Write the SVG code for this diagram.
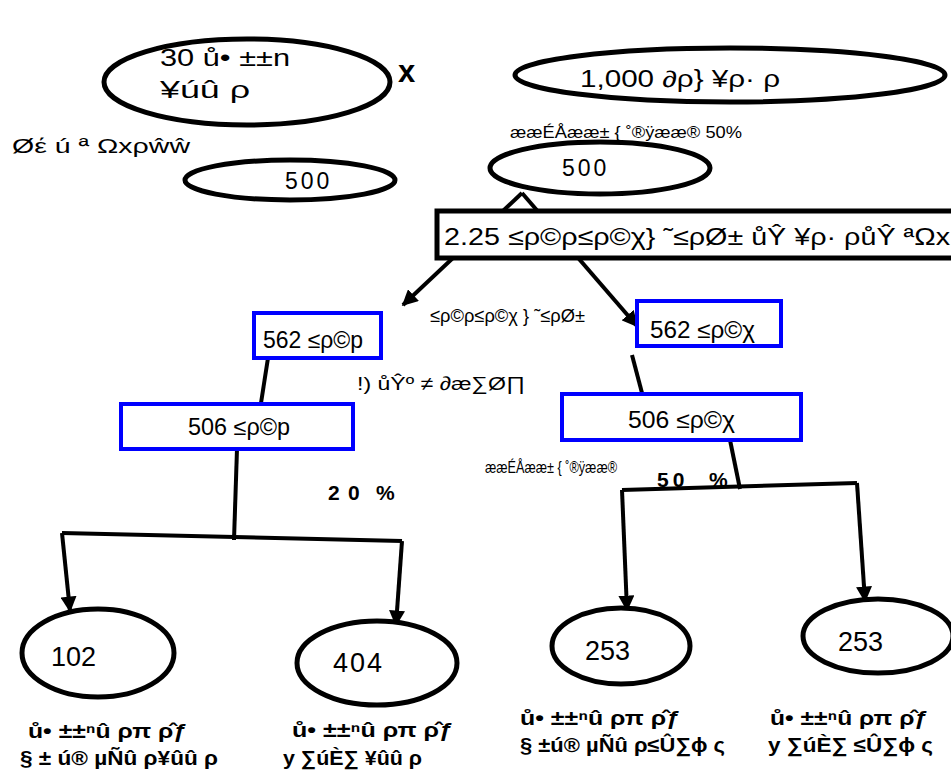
<svg xmlns="http://www.w3.org/2000/svg" width="951" height="775" viewBox="0 0 951 775">
<defs>
<marker id="ah" viewBox="0 0 10 10" refX="9" refY="5" markerWidth="4" markerHeight="4" orient="auto" markerUnits="strokeWidth">
<path d="M0,0 L10,5 L0,10 z" fill="#000"/>
</marker>
<style>
.el{fill:#fff;stroke:#000;stroke-width:5}
.bk{fill:#fff;stroke:#000;stroke-width:5}
.bl{fill:#fff;stroke:#0000ff;stroke-width:4}
.t{font-family:"Liberation Sans",Arial,sans-serif;fill:#000}
.n{font-size:23px}
.s{font-size:17px}
.b{font-size:20px;font-weight:bold}
.c{stroke:#000;stroke-width:4;fill:none}
.a{stroke:#000;stroke-width:4;fill:none;marker-end:url(#ah)}
</style>
</defs>
<rect width="951" height="775" fill="#fff"/>
<g id="connectors">
<line class="a" x1="522" y1="193" x2="403" y2="305"/>
<line class="a" x1="522" y1="193" x2="637" y2="326"/>
<line class="c" x1="268" y1="358" x2="261" y2="403"/>
<line class="c" x1="237" y1="449" x2="234" y2="540"/>
<line class="c" x1="62" y1="533" x2="402" y2="541"/>
<line class="a" x1="62" y1="533" x2="70" y2="611"/>
<line class="a" x1="402" y1="541" x2="396" y2="625"/>
<line class="c" x1="632" y1="355" x2="642" y2="393"/>
<line class="c" x1="730" y1="440" x2="740" y2="489"/>
<line class="c" x1="622" y1="490" x2="857" y2="483"/>
<line class="a" x1="622" y1="490" x2="627" y2="610"/>
<line class="a" x1="857" y1="483" x2="865" y2="601"/>
</g>
<g id="n-months">
<ellipse class="el" cx="247" cy="82" rx="143" ry="43"/>
<text class="t n" x="160" y="66" textLength="130" lengthAdjust="spacingAndGlyphs">30  ů•  ±±n</text>
<text class="t n" x="160" y="98" textLength="90" lengthAdjust="spacingAndGlyphs">¥úû  ρ</text>
</g>
<g id="n-times"><text class="t" x="398" y="82" font-size="31" font-weight="bold">x</text></g>
<g id="n-1000">
<ellipse class="el" cx="730" cy="75" rx="215" ry="27"/>
<text class="t n" x="580" y="87" textLength="200" lengthAdjust="spacingAndGlyphs">1,000   ∂ρ}   ¥ρ· ρ</text>
</g>
<g id="l-50a"><text class="t s" x="510" y="138" textLength="232" lengthAdjust="spacingAndGlyphs">ææÉÅææ± { ˚®ÿææ® 50%</text></g>
<g id="l-left"><text class="t" x="12" y="153" font-size="20" textLength="178" lengthAdjust="spacingAndGlyphs">Øέ ú ª Ωxρŵŵ</text></g>
<g id="n-500a">
<ellipse class="el" cx="290" cy="180" rx="105" ry="20"/>
<text class="t n" x="285" y="189" letter-spacing="3">500</text>
</g>
<g id="n-500b">
<ellipse class="el" cx="600" cy="168" rx="110" ry="26"/>
<text class="t n" x="562" y="176" letter-spacing="3">500</text>
</g>
<g id="n-rate">
<rect class="bk" x="437" y="211" width="520" height="47"/>
<text class="t" font-size="24" x="444" y="245" textLength="506" lengthAdjust="spacingAndGlyphs">2.25 ≤ρ©ρ≤ρ©χ} ˜≤ρØ±   ůŶ ¥ρ· ρůŶ ªΩx</text>
</g>
<g id="l-mid"><text class="t" font-size="19" x="430" y="322" textLength="155" lengthAdjust="spacingAndGlyphs">≤ρ©ρ≤ρ©χ } ˜≤ρØ±</text></g>
<g id="n-562a">
<rect class="bl" x="254" y="313" width="127" height="45"/>
<text class="t n" x="263" y="348" textLength="100" lengthAdjust="spacingAndGlyphs">562  ≤ρ©p</text>
</g>
<g id="n-562b">
<rect class="bl" x="637" y="301" width="144" height="45"/>
<text class="t n" x="650" y="338" textLength="105" lengthAdjust="spacingAndGlyphs">562  ≤ρ©χ</text>
</g>
<g id="l-cost"><text class="t" font-size="19" x="357" y="390" textLength="168" lengthAdjust="spacingAndGlyphs">!)  ůŶº ≠   ∂æ∑Ø∏</text></g>
<g id="n-506a">
<rect class="bl" x="121" y="404" width="232" height="45"/>
<text class="t n" x="188" y="435" textLength="102" lengthAdjust="spacingAndGlyphs">506 ≤ρ©p</text>
</g>
<g id="n-506b">
<rect class="bl" x="562" y="394" width="239" height="46"/>
<text class="t n" x="628" y="428" textLength="107" lengthAdjust="spacingAndGlyphs">506 ≤ρ©χ</text>
</g>
<g id="l-20"><text class="t" y="500" font-size="21" font-weight="bold"><tspan x="328">2</tspan><tspan x="348">0</tspan><tspan x="376">%</tspan></text></g>
<g id="l-50b">
<text class="t" font-size="17" x="485" y="473" textLength="132" lengthAdjust="spacingAndGlyphs">ææÉÅææ± { ˚®ÿææ®</text>
<text class="t" y="487" font-size="21" font-weight="bold"><tspan x="657" letter-spacing="4">50</tspan><tspan x="709">%</tspan></text>
</g>
<g id="n-102">
<ellipse class="el" cx="98" cy="653" rx="76" ry="44"/>
<text class="t" x="51" y="666" font-size="27">102</text>
</g>
<g id="n-404">
<ellipse class="el" cx="377" cy="663" rx="80" ry="42"/>
<text class="t" x="333" y="672" font-size="27" letter-spacing="2">404</text>
</g>
<g id="n-253a">
<ellipse class="el" cx="621" cy="646" rx="69" ry="38"/>
<text class="t" x="585" y="660" font-size="27">253</text>
</g>
<g id="n-253b">
<ellipse class="el" cx="878" cy="636" rx="75" ry="37"/>
<text class="t" x="838" y="651" font-size="27">253</text>
</g>
<g id="l-b1">
<text class="t b" x="28" y="738" textLength="159" lengthAdjust="spacingAndGlyphs">ů•  ±±ⁿû ρπ ρ̂ƒ</text>
<text class="t b" x="20" y="765" textLength="198" lengthAdjust="spacingAndGlyphs">§ ± ú® µÑû ρ¥ûû ρ</text>
</g>
<g id="l-b2">
<text class="t b" x="292" y="737" textLength="161" lengthAdjust="spacingAndGlyphs">ů•  ±±ⁿû ρπ ρ̂ƒ</text>
<text class="t b" x="283" y="765" textLength="139" lengthAdjust="spacingAndGlyphs">y ∑úÈ∑  ¥ûû ρ</text>
</g>
<g id="l-b3">
<text class="t b" x="520" y="725" textLength="160" lengthAdjust="spacingAndGlyphs">ů•  ±±ⁿû ρπ ρ̂ƒ</text>
<text class="t b" x="520" y="752" textLength="205" lengthAdjust="spacingAndGlyphs">§ ±ú® µÑû ρ≤Û∑ɸ ς</text>
</g>
<g id="l-b4">
<text class="t b" x="770" y="725" textLength="158" lengthAdjust="spacingAndGlyphs">ů•  ±±ⁿû ρπ ρ̂ƒ</text>
<text class="t b" x="768" y="752" textLength="165" lengthAdjust="spacingAndGlyphs">y ∑úÈ∑  ≤Û∑ɸ ς</text>
</g>
</svg>
